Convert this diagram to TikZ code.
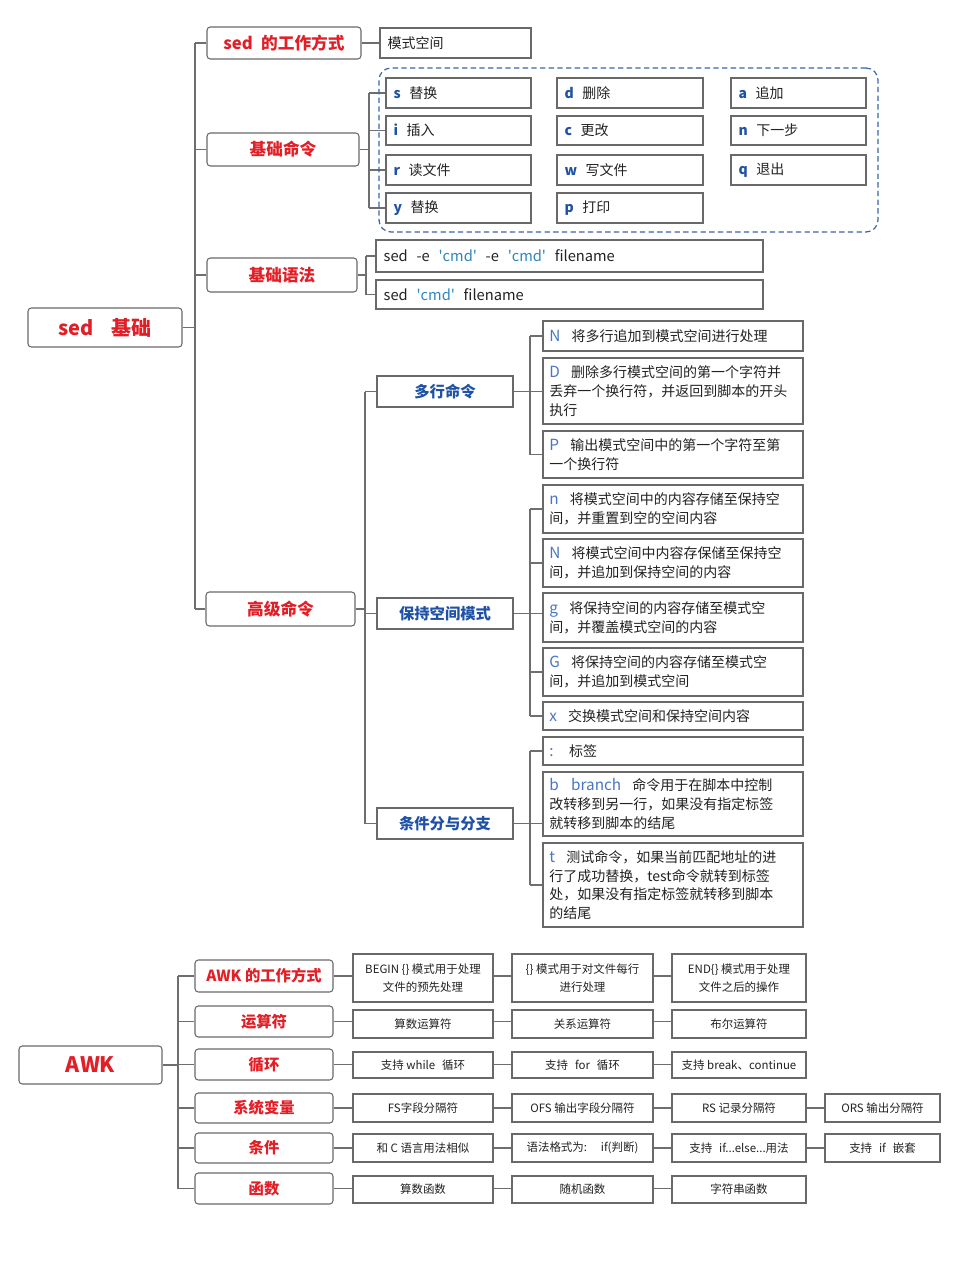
\documentclass[tikz,border=0pt]{standalone}
\usepackage{fontspec}
\setmainfont{Noto Sans CJK SC}
\usetikzlibrary{fit}
\definecolor{cred}{RGB}{226,30,38}
\definecolor{cblue}{RGB}{31,82,165}
\definecolor{clight}{RGB}{72,118,196}
\definecolor{ccmd}{RGB}{46,134,193}
\definecolor{cdash}{RGB}{58,100,170}
\definecolor{cbord}{RGB}{105,105,105}
\definecolor{cline}{RGB}{110,110,110}
\definecolor{ctext}{RGB}{34,34,34}
\tikzset{
  box/.style={draw=cbord, line width=0.8pt, fill=white, inner sep=0pt},
  rbox/.style={box, rounded corners=2.5pt},
  conn/.style={draw=cline, line width=0.8pt},
  redlbl/.style={text=cred, font=\fontsize{12.5}{15}\selectfont\bfseries, inner sep=0pt},
  awklbl/.style={text=cred, font=\fontsize{11.5}{14}\selectfont\bfseries, inner sep=0pt},
  bluelbl/.style={text=cblue, font=\fontsize{11.5}{14}\selectfont\bfseries, inner sep=0pt},
  lefttxt/.style={anchor=west, align=left, text=ctext, inner sep=0pt, font=\fontsize{10.5}{14}\selectfont},
  awktxt/.style={align=center, text=ctext, inner sep=0pt, font=\fontsize{8.6}{14}\selectfont},
}
\newcommand{\bx}[6][]{\node[box,#1,fit={(#3,#4) (#5,#6)}] (#2) {};}
\newcommand{\bletter}[1]{{\bfseries\color{cblue}#1}\hspace{0.6em}}
\newcommand{\lettr}[1]{{\color{clight}\fontsize{11.5}{14}\selectfont #1}\hspace{0.8em}}
\newcommand{\cmdq}{{\color{ccmd}\textquotesingle cmd\textquotesingle}}
\newcommand{\rb}[4]{\bx{#1}{543}{#2}{803}{#3}\node[lefttxt] (#1-t) at ([xshift=5pt]#1.west) {#4};}
\newcommand{\cb}[6]{\bx{#1}{#2}{#3}{#4}{#5}\node[lefttxt] (#1-t) at ([xshift=6pt]#1.west) {#6};}
\newcommand{\ab}[6]{\bx{#1}{#2}{#3}{#4}{#5}\node[awktxt] (#1-t) at (#1) {#6};}
\begin{document}
\begin{tikzpicture}[x=0.75pt,y=-0.75pt]
\useasboundingbox (0,0) rectangle (960,1280);
\fill[white] (0,0) rectangle (960,1280);

% trunk coordinates
\coordinate (T1) at (195,0);
\coordinate (T2) at (369,0);
\coordinate (T3) at (366,0);
\coordinate (T4) at (365,0);
\coordinate (T5) at (530,0);
\coordinate (T6) at (178,0);

% ---------------- sed ----------------
\bx[rbox]{sroot}{28}{308}{182}{347}
\node[text=cred, font=\fontsize{15}{18}\selectfont\bfseries, inner sep=0pt] (sroot-t) at (sroot) {sed\hspace{0.9em}基础};

\bx[rbox]{w1}{207}{27}{361}{59}
\node[redlbl] (w1-t) at (w1) {sed\hspace{0.5em}的工作方式};
\bx[rbox]{b1}{207}{133}{359}{166}
\node[redlbl] (b1-t) at (b1) {基础命令};
\bx[rbox]{b2}{207}{258}{357}{292}
\node[redlbl] (b2-t) at (b2) {基础语法};
\bx[rbox]{b3}{206}{592}{355}{626}
\node[redlbl] (b3-t) at (b3) {高级命令};

\draw[conn] (sroot.east) -- (T1 |- sroot.east);
\draw[conn] (T1 |- w1.west) -- (T1 |- b3.west);
\foreach \nn in {w1,b1,b2,b3} \draw[conn] (T1 |- \nn.west) -- (\nn.west);

% mode space
\cb{ms}{380}{28}{531}{58}{模式空间}
\draw[conn] (w1.east) -- (ms.west);

% basic commands
\draw[conn] (b1.east) -- (T2 |- b1.east);
\draw[conn] (T2 |- 0,93) -- (T2 |- 0,208);
\foreach \yy in {93,130.5,170,208} \draw[conn] (T2 |- 0,\yy) -- (386,\yy);
\node[draw=cdash, dash pattern=on 4pt off 2.5pt, line width=0.9pt, rounded corners=9pt, inner sep=0pt, fit={(379,68) (878,232)}] (grp) {};
\cb{cs}{386}{78}{531}{108}{\bletter{s}替换}
\cb{ci}{386}{116}{531}{145}{\bletter{i}插入}
\cb{cr}{386}{155}{531}{185}{\bletter{r}读文件}
\cb{cy}{386}{193}{531}{223}{\bletter{y}替换}
\cb{cd}{557}{78}{703}{108}{\bletter{d}删除}
\cb{cc}{557}{116}{703}{145}{\bletter{c}更改}
\cb{cw}{557}{155}{703}{185}{\bletter{w}写文件}
\cb{cp}{557}{193}{703}{223}{\bletter{p}打印}
\cb{ca}{731}{78}{866}{108}{\bletter{a}追加}
\cb{cn}{731}{116}{866}{145}{\bletter{n}下一步}
\cb{cq}{731}{155}{866}{185}{\bletter{q}退出}

% basic syntax
\cb{s1}{376}{240}{763}{272}{\fontsize{11}{14}\selectfont sed\hspace{0.6em}-e\hspace{0.6em}\cmdq\hspace{0.6em}-e\hspace{0.6em}\cmdq\hspace{0.6em}filename}
\cb{s2}{376}{280}{763}{309}{\fontsize{11}{14}\selectfont sed\hspace{0.6em}\cmdq\hspace{0.6em}filename}
\draw[conn] (b2.east) -- (T3 |- b2.east);
\draw[conn] (T3 |- s1.west) -- (T3 |- s2.west);
\foreach \nn in {s1,s2} \draw[conn] (T3 |- \nn.west) -- (\nn.west);

% advanced
\bx{m1}{377}{376}{513}{407}
\node[bluelbl] (m1-t) at (m1) {多行命令};
\bx{m2}{377}{598}{513}{629}
\node[bluelbl] (m2-t) at (m2) {保持空间模式};
\bx{m3}{377}{808}{513}{839}
\node[bluelbl] (m3-t) at (m3) {条件分与分支};
\draw[conn] (b3.east) -- (T4 |- b3.east);
\draw[conn] (T4 |- m1.west) -- (T4 |- m3.west);
\foreach \nn in {m1,m2,m3} \draw[conn] (T4 |- \nn.west) -- (\nn.west);

\rb{r1}{321}{351}{\lettr{N}将多行追加到模式空间进行处理}
\rb{r2}{358}{424}{\lettr{D}删除多行模式空间的第一个字符并\\丢弃一个换行符，并返回到脚本的开头\\执行}
\rb{r3}{431}{478}{\lettr{P}输出模式空间中的第一个字符至第\\一个换行符}
\rb{r4}{485}{533}{\lettr{n}将模式空间中的内容存储至保持空\\间，并重置到空的空间内容}
\rb{r5}{539}{587}{\lettr{N}将模式空间中内容存保储至保持空\\间，并追加到保持空间的内容}
\rb{r6}{593}{642}{\lettr{g}将保持空间的内容存储至模式空\\间，并覆盖模式空间的内容}
\rb{r7}{648}{696}{\lettr{G}将保持空间的内容存储至模式空\\间，并追加到模式空间}
\rb{r8}{702}{730}{\lettr{x}交换模式空间和保持空间内容}
\rb{r9}{737}{765}{\lettr{:}\hspace{0.3em}标签}
\rb{r10}{772}{836}{{\color{clight}\fontsize{11.5}{14}\selectfont b\hspace{0.8em}branch}\hspace{0.8em}命令用于在脚本中控制\\改转移到另一行，如果没有指定标签\\就转移到脚本的结尾}
\rb{r11}{843}{927}{\lettr{t}测试命令，如果当前匹配地址的进\\行了成功替换，test命令就转到标签\\处，如果没有指定标签就转移到脚本\\的结尾}

\draw[conn] (m1.east) -- (r2.west |- m1.east);
\draw[conn] (T5 |- r1.west) -- (T5 |- r3.west);
\foreach \nn in {r1,r3} \draw[conn] (T5 |- \nn.west) -- (\nn.west);
\draw[conn] (m2.east) -- (r6.west |- m2.east);
\draw[conn] (T5 |- r4.west) -- (T5 |- r8.west);
\foreach \nn in {r4,r5,r7,r8} \draw[conn] (T5 |- \nn.west) -- (\nn.west);
\draw[conn] (m3.east) -- (r10.west |- m3.east);
\draw[conn] (T5 |- r9.west) -- (T5 |- r11.west);
\foreach \nn in {r9,r11} \draw[conn] (T5 |- \nn.west) -- (\nn.west);

% ---------------- AWK ----------------
\bx[rbox]{aroot}{19}{1046}{162}{1084}
\node[text=cred, font=\fontsize{16}{18}\selectfont\bfseries, inner sep=0pt] (aroot-t) at (aroot) {AWK};

\bx[rbox]{a1}{195}{960}{333}{992}
\node[awklbl] (a1-t) at (a1) {AWK 的工作方式};
\bx[rbox]{a2}{195}{1006}{333}{1037}
\node[awklbl] (a2-t) at (a2) {运算符};
\bx[rbox]{a3}{195}{1049}{333}{1080}
\node[awklbl] (a3-t) at (a3) {循环};
\bx[rbox]{a4}{195}{1093}{333}{1123}
\node[awklbl] (a4-t) at (a4) {系统变量};
\bx[rbox]{a5}{195}{1133}{333}{1163}
\node[awklbl] (a5-t) at (a5) {条件};
\bx[rbox]{a6}{195}{1173}{333}{1204}
\node[awklbl] (a6-t) at (a6) {函数};

\draw[conn] (aroot.east) -- (T6 |- aroot.east);
\draw[conn] (T6 |- a1.west) -- (T6 |- a6.west);
\foreach \nn in {a1,a2,a3,a4,a5,a6} \draw[conn] (T6 |- \nn.west) -- (\nn.west);

% row 1
\ab{p11}{353}{954}{493}{1002}{BEGIN \{\} 模式用于处理\\文件的预先处理}
\ab{p12}{512}{954}{653}{1002}{\{\} 模式用于对文件每行\\进行处理}
\ab{p13}{672}{954}{806}{1002}{END\{\} 模式用于处理\\文件之后的操作}
% row 2
\ab{p21}{353}{1010}{493}{1038}{算数运算符}
\ab{p22}{512}{1010}{653}{1038}{关系运算符}
\ab{p23}{672}{1010}{806}{1038}{布尔运算符}
% row 3
\ab{p31}{353}{1052}{493}{1078}{支持 while\hspace{0.6em}循环}
\ab{p32}{512}{1052}{653}{1078}{支持\hspace{0.6em}for\hspace{0.6em}循环}
\ab{p33}{672}{1052}{806}{1078}{支持 break、continue}
% row 4
\ab{p41}{353}{1094}{493}{1122}{FS字段分隔符}
\ab{p42}{512}{1094}{653}{1122}{OFS 输出字段分隔符}
\ab{p43}{672}{1094}{806}{1122}{RS 记录分隔符}
\ab{p44}{825}{1094}{940}{1122}{ORS 输出分隔符}
% row 5
\ab{p51}{353}{1134}{493}{1162}{和 C 语言用法相似}
\ab{p52}{512}{1134}{653}{1162}{语法格式为:\hspace{1.2em}if(判断)}
\ab{p53}{672}{1134}{806}{1162}{支持\hspace{0.6em}if...else...用法}
\ab{p54}{825}{1134}{940}{1162}{支持\hspace{0.6em}if\hspace{0.6em}嵌套}
% row 6
\ab{p61}{353}{1176}{493}{1203}{算数函数}
\ab{p62}{512}{1176}{653}{1203}{随机函数}
\ab{p63}{672}{1176}{806}{1203}{字符串函数}

\draw[conn] (a1.east) -- (p11.west |- a1.east);
\draw[conn] (p11.east |- a1.east) -- (p12.west |- a1.east);
\draw[conn] (p12.east |- a1.east) -- (p13.west |- a1.east);
\draw[conn] (a2.east) -- (p21.west |- a2.east);
\draw[conn] (p21.east |- a2.east) -- (p22.west |- a2.east);
\draw[conn] (p22.east |- a2.east) -- (p23.west |- a2.east);
\draw[conn] (a3.east) -- (p31.west |- a3.east);
\draw[conn] (p31.east |- a3.east) -- (p32.west |- a3.east);
\draw[conn] (p32.east |- a3.east) -- (p33.west |- a3.east);
\draw[conn] (a4.east) -- (p41.west |- a4.east);
\draw[conn] (p41.east |- a4.east) -- (p42.west |- a4.east);
\draw[conn] (p42.east |- a4.east) -- (p43.west |- a4.east);
\draw[conn] (p43.east |- a4.east) -- (p44.west |- a4.east);
\draw[conn] (a5.east) -- (p51.west |- a5.east);
\draw[conn] (p51.east |- a5.east) -- (p52.west |- a5.east);
\draw[conn] (p52.east |- a5.east) -- (p53.west |- a5.east);
\draw[conn] (p53.east |- a5.east) -- (p54.west |- a5.east);
\draw[conn] (a6.east) -- (p61.west |- a6.east);
\draw[conn] (p61.east |- a6.east) -- (p62.west |- a6.east);
\draw[conn] (p62.east |- a6.east) -- (p63.west |- a6.east);
\end{tikzpicture}
\end{document}
